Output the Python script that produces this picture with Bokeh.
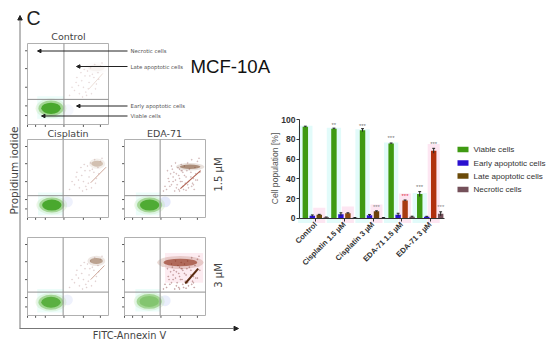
from math import pi
from bokeh.embed import file_html
from bokeh.resources import INLINE
from bokeh.plotting import figure
from bokeh.models import Range1d, LinearAxis, FixedTicker, Arrow, NormalHead
from bokeh.core.properties import value

# ---- bar chart data
groups = ["Control", "Cisplatin 1.5 µM", "Cisplatin 3 µM", "EDA-71 1.5 µM", "EDA-71 3 µM"]
viable = [93, 91, 89.5, 76, 24.5]
early = [2.5, 4, 3, 3.5, 1.5]
late = [3.5, 5, 7, 18, 68.5]
necrotic = [1, 0.5, 0.5, 1.5, 4.5]
viable_err = [0.5, 0.5, 1.5, 0.4, 2.5]
early_err = [0.8, 1.5, 0.8, 1.5, 0.4]
late_err = [0.4, 0.5, 0.5, 0.5, 2.5]
necrotic_err = [0.2, 0.2, 0.2, 0.5, 2.0]
late_colors = ["#6b4a08", "#8a4a10", "#6b3f08", "#a83a12", "#b0300e"]
legend_names = ["Viable cells", "Early apoptotic cells", "Late apoptotic cells", "Necrotic cells"]
legend_colors = ["#3f9a12", "#2a10d0", "#6b4a08", "#74505a"]
yticks = [0, 20, 40, 60, 80, 100]
star_x = [1 - 0.37, 2 - 0.37, 3 - 0.37, 4 - 0.37, 2 + 0.12, 3 + 0.12, 4 + 0.12, 4 + 0.37]
star_y = [95, 94, 82, 32, 11, 23, 75, 11]
star_txt = ["**", "***", "***", "***", "***", "***", "***", "***"]
star_col = ["#777", "#777", "#777", "#777", "#888", "#e0304a", "#777", "#888"]

# ---- flow cytometry panels: frame in image px and cluster estimates (u, v in 0..100)
panel_names = ["control", "cis15", "eda15", "cis3", "eda3"]
panel_left = [27, 27, 124, 27, 124]
panel_top = [43, 139, 139, 237, 237]
panel_height = [81, 78, 78, 78, 78]
panel_titles = ["Control", "Cisplatin", "EDA-71"]
gate_u = [45, 44, 44, 44, 44]
gate_v = [31, 28, 28, 30, 30]
green_u = [29, 30, 31, 29, 30.5]
green_v = [20, 16, 16, 17, 18]
green_core_alpha = [0.85, 0.85, 0.8, 0.7, 0.3]
blue_u = [50, 49, 50, 49, 50]
blue_v = [18, 20, 20, 20, 19]
blue_alpha = [0.05, 0.09, 0.14, 0.09, 0.11]
cluster_u = [85, 86, 81, 85, 69]
cluster_v = [70, 69, 65, 70, 68]
cluster_w = [26, 18, 32, 20, 52]
cluster_h = [12, 11, 8, 11, 14]
cluster_col = ["#c8a898", "#a07a5a", "#7a4a2a", "#8a6040", "#8a2a10"]
cluster_alpha = [0.1, 0.4, 0.55, 0.5, 0.6]
streak_u0 = [76, 78, 69, 78, 75]
streak_u1 = [93, 97, 94, 95, 91]
streak_v0 = [44, 44.5, 37, 46, 41]
streak_v1 = [63, 64.5, 60, 64, 60]
streak_col = ["#e2d0c6", "#c09080", "#b06050", "#c09080", "#5a2a10"]
streak_w = [0.7, 0.8, 1.1, 0.8, 2.0]
sparse_n = [30, 30, 60, 30, 60]
sparse_alpha = [0.15, 0.2, 0.35, 0.2, 0.5]
sparse_u = [52, 58, 63, 67, 71, 74, 78, 80, 83, 60, 64, 69, 72, 76, 82, 87, 90, 55, 61, 66,
            70, 75, 79, 85, 88, 68, 73, 77, 84, 92, 48, 50, 54, 57, 59, 62, 65, 68, 72, 76,
            79, 83, 86, 90, 93, 56, 60, 64, 68, 71, 74, 78, 82, 85, 88, 53, 58, 63, 67, 70]
sparse_v = [36, 42, 48, 54, 60, 66, 70, 62, 74, 52, 38, 46, 40, 52, 58, 64, 72, 46, 58, 64,
            68, 44, 38, 50, 56, 34, 36, 60, 44, 76, 34, 40, 50, 56, 62, 34, 42, 50, 58, 35,
            46, 40, 36, 48, 58, 40, 46, 56, 62, 46, 54, 42, 52, 42, 48, 60, 66, 70, 36, 60]
tick_left_v = [11, 23, 46, 69, 91]
tick_bottom_u = [0, 10, 22, 45, 69, 90]

# ---- callouts
callout_names = ["Necrotic cells", "Late apoptotic cells", "Early apoptotic cells", "Viable cells"]
callout_y = [50.5, 66, 105.5, 115.5]
callout_tip = [37, 76, 76, 41]

W, H = 550, 345
X0, Y0 = 0, 0


def xr(p0, p1, v0, v1):
    k = (v1 - v0) / (p1 - p0)
    return Range1d(start=v0 + (X0 - p0) * k, end=v0 + (X0 + W - p0) * k)


def yr(p0, p1, v0, v1):
    k = (v1 - v0) / (p1 - p0)
    return Range1d(start=v0 + (Y0 + H - p0) * k, end=v0 + (Y0 - p0) * k)


p = figure(width=W, height=H, output_backend="svg", toolbar_location=None,
           x_range=Range1d(X0, X0 + W), y_range=Range1d(Y0 + H, Y0),
           x_axis_location=None, y_axis_location=None, min_border=0,
           outline_line_color=None, background_fill_color="white")
p.grid.visible = False

SANS = value("Liberation Sans")
DJ = value("DejaVu Sans")


def label(x, y, s, size, font=SANS, color="#222", angle=0, align="left", baseline="middle"):
    p.text([x], [y], text=[s], text_font=font, text_font_size=f"{size}px", text_color=color,
           angle=angle, text_align=align, text_baseline=baseline)


# ---- flow panels
for i, name in enumerate(panel_names):
    rx, ry = name + "_x", name + "_y"
    L, T, Ht = panel_left[i], panel_top[i], panel_height[i]
    p.extra_x_ranges[rx] = xr(L, L + 81, 0, 100)
    p.extra_y_ranges[ry] = yr(T + Ht, T, 0, 100)
    kw = dict(x_range_name=rx, y_range_name=ry)
    # compression halos
    p.quad(left=[green_u[i] - 17], right=[gate_u[i]], bottom=[green_v[i] - 13], top=[gate_v[i] + 4],
           fill_color="#d8faf5", fill_alpha=0.45, line_color=None, **kw)
    if name == "eda3":
        p.quad(left=[50], right=[97], bottom=[42], top=[80], fill_color="#fbd0dc", fill_alpha=0.4,
               line_color=None, **kw)
    # clouds
    p.ellipse(x=[blue_u[i]], y=[blue_v[i]], width=[14], height=[14], fill_color="#4060e0",
              fill_alpha=blue_alpha[i], line_color=None, **kw)
    for w, h, col, a in zip([38, 31, 24], [24, 19, 14],
                            ["#b8e0a8", "#6ab848", "#3aa01c"],
                            [0.3, 0.5, green_core_alpha[i]]):
        p.ellipse(x=[green_u[i]], y=[green_v[i]], width=[w], height=[h], fill_color=col,
                  fill_alpha=a, line_color=None, **kw)
    n = sparse_n[i]
    p.scatter(sparse_u[:n], sparse_v[:n], size=1, color="#b08080", alpha=sparse_alpha[i], **kw)
    p.ellipse(x=[cluster_u[i]], y=[cluster_v[i]], width=[cluster_w[i] * 1.1], height=[cluster_h[i] * 1.2],
              fill_color=cluster_col[i], fill_alpha=cluster_alpha[i] * 0.3, line_color=None, **kw)
    p.ellipse(x=[cluster_u[i]], y=[cluster_v[i]], width=[cluster_w[i] * 0.8], height=[cluster_h[i] * 0.7],
              fill_color=cluster_col[i], fill_alpha=cluster_alpha[i], line_color=None, **kw)
    p.line([streak_u0[i], streak_u1[i]], [streak_v0[i], streak_v1[i]], line_color=streak_col[i],
           line_width=streak_w[i], **kw)
    # frame, gates and log ticks
    p.quad(left=[0], right=[100], bottom=[0], top=[100], fill_color=None, line_color="#b0b0b0",
           line_width=1, **kw)
    p.line([gate_u[i], gate_u[i]], [0, 100], line_color="#909090", line_width=1, **kw)
    p.line([0, 100], [gate_v[i], gate_v[i]], line_color="#909090", line_width=1, **kw)
    p.segment(x0=[-3] * len(tick_left_v), x1=[-0.5] * len(tick_left_v), y0=tick_left_v, y1=tick_left_v,
              line_color="#555", line_width=1, **kw)
    p.segment(x0=tick_bottom_u, x1=tick_bottom_u, y0=[-3] * len(tick_bottom_u), y1=[-0.5] * len(tick_bottom_u),
              line_color="#555", line_width=1, **kw)

# ---- big arrows
head = dict(size=4.5, fill_color="#222", line_color="#222")
p.add_layout(Arrow(end=NormalHead(**head), x_start=19.5, y_start=328, x_end=19.5, y_end=15,
                   line_color="#777", line_width=1))
p.add_layout(Arrow(end=NormalHead(**head), x_start=19, y_start=328, x_end=238, y_end=328,
                   line_color="#777", line_width=1))
for yy, tip, s in zip(callout_y, callout_tip, callout_names):
    p.add_layout(Arrow(end=NormalHead(size=3.5, fill_color="#222", line_color="#222"),
                       x_start=127, y_start=yy, x_end=tip, y_end=yy, line_color="#222", line_width=1))
    label(130, yy, s, 5.4, font=DJ, color="#555")

# ---- texts on the left
label(26, 17, "C", 19.5)
label(190, 66, "MCF-10A", 18.6, color="#111")
label(68, 36, panel_titles[0], 9.5, font=DJ, color="#444", align="center")
label(67.5, 133, panel_titles[1], 9.5, font=DJ, color="#444", align="center")
label(164, 133, panel_titles[2], 9.5, font=DJ, color="#444", align="center")
label(13, 170, "Propidium iodide", 10.5, font=DJ, color="#444", angle=pi / 2, align="center")
label(129, 335, "FITC-Annexin V", 9.8, font=DJ, color="#444", align="center")
label(218, 174, "1.5 µM", 10, font=DJ, color="#444", angle=pi / 2, align="center")
label(218, 275, "3 µM", 10, font=DJ, color="#444", angle=pi / 2, align="center")

# ---- bar chart, on scales of its own
p.extra_x_ranges["bar"] = xr(315.3, 429.7, 0, 4)
p.extra_y_ranges["pct"] = yr(217.7, 119.3, 0, 100)
bk = dict(x_range_name="bar", y_range_name="pct")
offs = [-0.366, -0.122, 0.122, 0.366]
bw = 0.19
gx = list(range(len(groups)))


def pos(k):
    return [g + offs[k] for g in gx]


# pale compression halos round the strong bars
p.vbar(x=pos(0), top=[v + 1 for v in viable], bottom=-5, width=0.5, fill_color="#e2fbfa", line_color=None, **bk)
p.vbar(x=pos(2), top=[v + 7 for v in late], bottom=-5, width=0.42, fill_color="#fde6f2", line_color=None, **bk)

series = [(viable, viable_err, [legend_colors[0]] * 5), (early, early_err, [legend_colors[1]] * 5),
          (late, late_err, late_colors), (necrotic, necrotic_err, [legend_colors[3]] * 5)]
for k, (vals, errs, cols) in enumerate(series):
    xs = pos(k)
    p.vbar(x=xs, top=vals, bottom=0, width=bw, fill_color=cols, line_color=None, **bk)
    p.segment(x0=xs, x1=xs, y0=[v - e for v, e in zip(vals, errs)], y1=[v + e for v, e in zip(vals, errs)],
              line_color="#222", line_width=1, **bk)
    p.segment(x0=[x - 0.05 for x in xs], x1=[x + 0.05 for x in xs], y0=[v + e for v, e in zip(vals, errs)],
              y1=[v + e for v, e in zip(vals, errs)], line_color="#222", line_width=1, **bk)

for sx, sy, st, sc in zip(star_x, star_y, star_txt, star_col):
    p.text([sx], [sy], text=[st], text_font=SANS, text_font_size="6px", text_color=sc,
           text_align="center", text_baseline="middle", **bk)

yax = LinearAxis(y_range_name="pct", fixed_location=299, bounds=(0, 100),
                 ticker=FixedTicker(ticks=yticks), major_tick_line_color="#333", axis_line_color="#333",
                 minor_tick_line_color=None, major_tick_in=0, major_tick_out=3,
                 major_label_text_font="Liberation Sans", major_label_text_font_size="8.5px",
                 major_label_text_font_style="bold", major_label_text_color="#333",
                 major_label_standoff=1)
p.add_layout(yax, "left")
xax = LinearAxis(x_range_name="bar", fixed_location=217.7, bounds=(-0.57, 4.5),
                 ticker=FixedTicker(ticks=gx), major_label_overrides=dict(zip(gx, groups)),
                 major_tick_line_color="#333", axis_line_color="#333", minor_tick_line_color=None,
                 major_tick_in=0, major_tick_out=3, major_label_orientation=pi / 4,
                 major_label_text_font="Liberation Sans", major_label_text_font_size="7.6px",
                 major_label_text_font_style="bold", major_label_text_color="#333",
                 major_label_standoff=2)
p.add_layout(xax, "below")
label(274, 168, "Cell population [%]", 8.6, color="#555", angle=pi / 2, align="center")

# ---- legend
leg_y = [149, 162.5, 175.5, 189]
p.rect(x=[462.5] * 4, y=leg_y, width=[11] * 4, height=[5.5] * 4, fill_color=legend_colors, line_color=None)
for yy, s in zip(leg_y, legend_names):
    label(473, yy, s, 8.1, color="#333")

open("out.html", "w").write(file_html(p, INLINE))
